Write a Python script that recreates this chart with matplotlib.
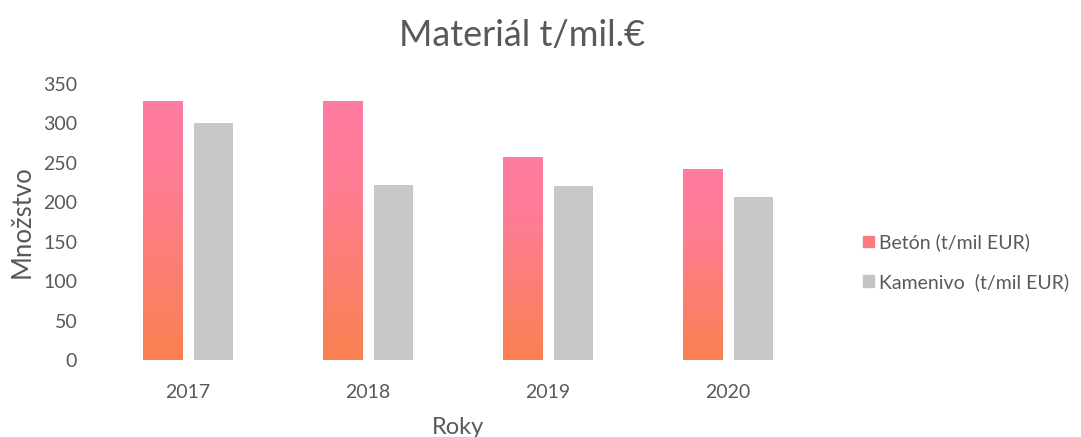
import numpy as np
import matplotlib
matplotlib.use("Agg")
import matplotlib.pyplot as plt
from matplotlib.colors import LinearSegmentedColormap
from matplotlib.patches import Patch

years = ["2017", "2018", "2019", "2020"]
beton = [327, 328, 256, 241]
kamenivo = [300, 222, 220, 207]

plt.rcParams['font.family'] = ['Lato', 'DejaVu Sans']
txt = '#595959'

fig = plt.figure(figsize=(10.81, 4.37), dpi=100)
ax = fig.add_axes([0.0907, 0.176, 0.666, 0.632])

x = np.arange(len(years))
w = 0.22
off = 0.142

b1 = ax.bar(x - off, beton, w, color='none', edgecolor='none')
b2 = ax.bar(x + off, kamenivo, w, color='#c8c8c8', edgecolor='none')

# gradient fill for the Beton bars (orange at bottom -> pink at top)
cmap = LinearSegmentedColormap.from_list('bet', ['#f9814f', '#fb7f72', '#fe7d92', '#ff7ba2'])
grad = np.linspace(0, 1, 256).reshape(-1, 1)
for p in b1:
    x0, y0 = p.get_x(), p.get_y()
    ax.imshow(grad, extent=[x0, x0 + p.get_width(), y0, y0 + p.get_height()],
              origin='lower', aspect='auto', cmap=cmap, zorder=2)

ax.set_xlim(-0.5, len(years) - 0.5)
ax.set_ylim(0, 350)
ax.set_yticks(range(0, 351, 50))
ax.set_xticks(x)
ax.set_xticklabels(years)
for s in ax.spines.values():
    s.set_visible(False)
ax.tick_params(length=0, labelsize=14, colors=txt, pad=17)
ax.tick_params(axis='y', pad=15)

ax.set_ylabel('Množstvo', fontsize=18.5, color=txt, labelpad=6)
ax.set_xlabel('Roky', fontsize=17, color=txt, labelpad=12)
fig.text(522 / 1081, 1 - 36 / 437, 'Materiál t/mil.€', ha='center', va='center',
         fontsize=26, color=txt)

handles = [Patch(color='#fb7b80'), Patch(color='#c4c4c4')]
fig.legend(handles, ['Betón (t/mil EUR)', 'Kamenivo  (t/mil EUR)'],
           loc='center left', bbox_to_anchor=(0.782, 0.400), frameon=False,
           fontsize=14, labelcolor=txt, handlelength=0.55, handleheight=0.55,
           handletextpad=0.3, labelspacing=1.1)

fig.savefig('out.png', dpi=100)
